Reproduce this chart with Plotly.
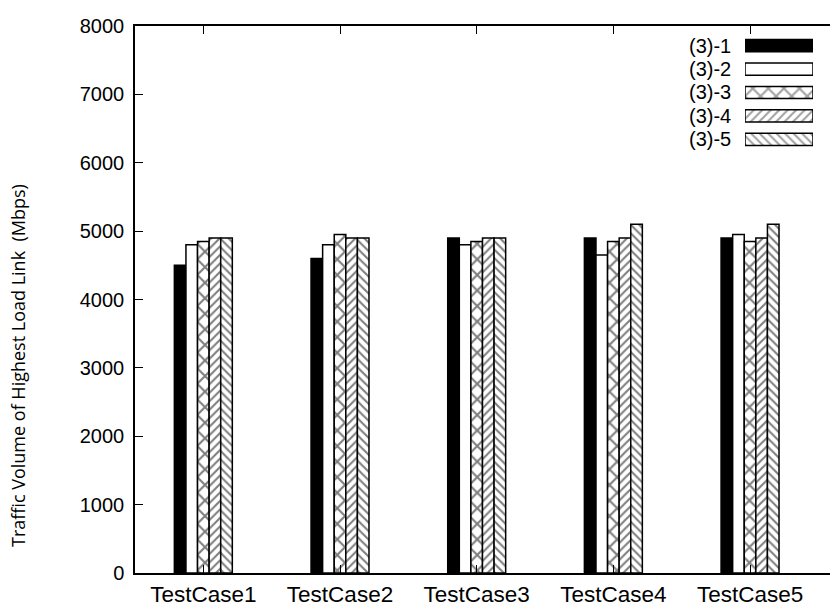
import plotly.graph_objects as go

categories = ["TestCase1", "TestCase2", "TestCase3", "TestCase4", "TestCase5"]
series_names = ["(3)-1", "(3)-2", "(3)-3", "(3)-4", "(3)-5"]
s1 = [4500, 4600, 4900, 4900, 4900]
s2 = [4800, 4800, 4800, 4650, 4950]
s3 = [4850, 4950, 4850, 4850, 4850]
s4 = [4900, 4900, 4900, 4900, 4900]
s5 = [4900, 4900, 4900, 5100, 5100]
series_values = [s1, s2, s3, s4, s5]
y_ticks = [0, 1000, 2000, 3000, 4000, 5000, 6000, 7000, 8000]

fills = ["black", "white", "white", "white", "white"]
shapes = ["", "", "x", "/", "\\"]
psizes = [8, 8, 11, 6, 6]
psolid = 0.35

W, H = 830, 608
L, R, T, B = 135, 0, 26, 35
pw = W - L - R
ph = H - T - B

fig = go.Figure()
for name, vals, fc, sh, ps in zip(series_names, series_values, fills, shapes, psizes):
    fig.add_bar(
        x=categories, y=vals, name=name, showlegend=False,
        marker=dict(color=fc, line=dict(color="black", width=1.5),
                    pattern=dict(shape=sh, fgcolor="black", size=ps, solidity=psolid)),
        xaxis="x", yaxis="y",
    )

# legend swatches (custom key: text left, sample right)
fig.add_bar(
    x=[1] * len(series_names), y=list(range(len(series_names))), base=0,
    orientation="h", width=0.52, showlegend=False, hoverinfo="skip",
    marker=dict(color=fills, line=dict(color="black", width=1.5),
                pattern=dict(shape=shapes, fgcolor="black", size=psizes, solidity=psolid)),
    xaxis="x2", yaxis="y2",
)

annotations = []
for i, name in enumerate(series_names):
    annotations.append(dict(
        text=name, x=-0.17, y=i, xref="x2 domain", yref="y2",
        xanchor="right", yanchor="middle", showarrow=False,
        font=dict(family="Liberation Sans, Arial", size=20, color="black"),
    ))

annotations.append(dict(
    text="Traffic Volume of Highest Load Link  (Mbps)",
    x=(18 - L) / pw, y=(H - B - 366) / ph, xref="paper", yref="paper",
    textangle=-90, showarrow=False, xanchor="center", yanchor="middle",
    font=dict(family="Open Sans, Noto Sans", size=18, color="black"),
))

fig.update_layout(
    width=W, height=H,
    margin=dict(l=L, r=R, t=T, b=B, pad=0),
    paper_bgcolor="white", plot_bgcolor="white",
    barmode="group", bargap=0.576, bargroupgap=0,
    font=dict(family="Liberation Sans, Arial", size=20, color="black"),
    xaxis=dict(
        type="category", range=[-0.5, (W - 203) / 136.75],
        showline=True, linecolor="black", linewidth=1.5, mirror="ticks",
        ticks="inside", ticklen=8, tickcolor="black", tickwidth=1,
        showgrid=False, zeroline=False,
        tickfont=dict(family="Liberation Sans, Arial", size=22.5, color="black"),
    ),
    yaxis=dict(
        range=[0, 8000], tickvals=y_ticks, ticktext=[str(v) for v in y_ticks],
        showline=True, linecolor="black", linewidth=1.5, mirror=False,
        ticks="inside", ticklen=8, tickcolor="black", tickwidth=1,
        ticklabelstandoff=5,
        showgrid=False, zeroline=False,
        tickfont=dict(family="Liberation Sans, Arial", size=20, color="black"),
    ),
    xaxis2=dict(domain=[(745 - L) / pw, (813 - L) / pw], range=[0, 1],
                visible=False, anchor="y2", fixedrange=True),
    yaxis2=dict(domain=[(H - B - 151) / ph, (H - B - 34) / ph], range=[4.5, -0.5],
                visible=False, anchor="x2", fixedrange=True),
    annotations=annotations,
)

fig.write_html("out.html")
